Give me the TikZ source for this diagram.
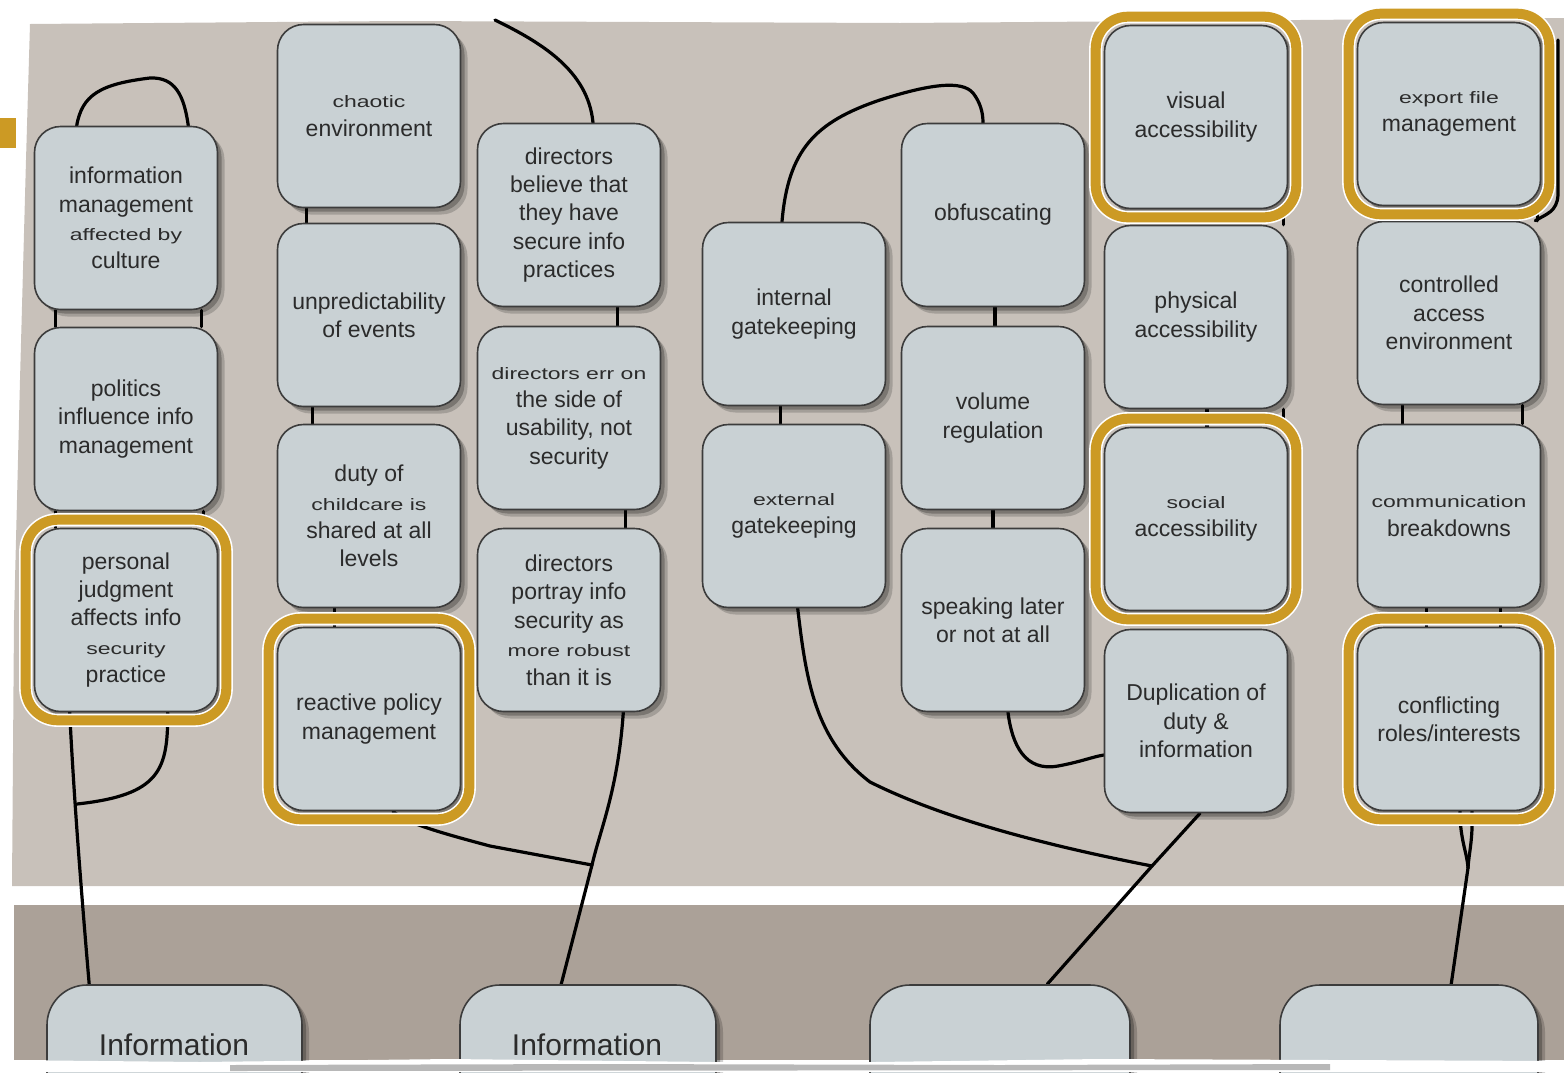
\documentclass[tikz,border=0pt]{standalone}
\usepackage{fontspec}
\setmainfont{Liberation Sans}
\usepackage{graphicx}
\usetikzlibrary{calc,fit,shadows}
\definecolor{panel}{HTML}{C8C1BA}
\definecolor{band}{HTML}{ABA198}
\definecolor{boxfill}{HTML}{C9D1D4}
\definecolor{boxline}{HTML}{3C3C3C}
\definecolor{gold}{HTML}{CC9A24}
\definecolor{txt}{HTML}{2B2B2B}
\newcommand{\sqz}[1]{\scalebox{1}[0.72]{#1}}
\pgfdeclarelayer{bg}\pgfdeclarelayer{conn}\pgfsetlayers{bg,conn,main}
\begin{document}
\begin{tikzpicture}[x=0.5pt,y=-0.5pt,
  softshadow/.style={
    drop shadow={shadow xshift=3.5pt, shadow yshift=-3.5pt, opacity=0.18, fill=black},
    drop shadow={shadow xshift=2pt, shadow yshift=-2pt, opacity=0.25, fill=black}},
  card/.style={draw=boxline, line width=0.8pt, fill=boxfill, rounded corners=13pt,
    minimum width=91.5pt, minimum height=91.5pt, inner sep=0pt, align=center, text=txt,
    font=\fontsize{11.5}{14.2}\selectfont, softshadow},
  bigcard/.style={draw=boxline, line width=0.8pt, fill=boxfill, rounded corners=20pt,
    minimum height=100pt, inner sep=0pt, softshadow},
  bigtext/.style={font=\fontsize{15}{18}\selectfont, text=txt, inner sep=0pt, anchor=base},
  ring/.style={draw=gold, line width=5pt, rounded corners=16pt, inner sep=4pt,
    preaction={draw=white, line width=6.6pt}},
  wire/.style={draw=black, line width=1.6pt, line cap=round, line join=round}
]
\useasboundingbox (0,0) rectangle (1564,1072);

% ---------- background ----------
\begin{pgfonlayer}{bg}
\fill[panel] (30,24) -- (400,21) -- (900,23) -- (1300,20) -- (1564,18) -- (1564,886)
  -- (12,886) -- (14,620) -- (20,380) -- (26,160) -- cycle;
\fill[band] (14,905) -- (1564,905) -- (1564,1060) -- (14,1060) -- cycle;
\fill[gold] (0,118) rectangle (16,148);
\end{pgfonlayer}

% ---------- cards ----------
\node[card] (c1a) at (126,218) {information\\management\\\sqz{affected by}\\culture};
\node[card] (c1b) at (126,419) {politics\\influence info\\management};
\node[card] (c1c) at (126,620) {personal\\judgment\\affects info\\\sqz{security}\\practice};

\node[card] (c2a) at (369,116) {\sqz{chaotic}\\environment};
\node[card] (c2b) at (369,315) {unpredictability\\of events};
\node[card] (c2c) at (369,516) {duty of\\\sqz{childcare is}\\shared at all\\levels};
\node[card] (c2d) at (369,719) {reactive policy\\management};

\node[card] (c3a) at (569,215) {directors\\believe that\\they have\\secure info\\practices};
\node[card] (c3b) at (569,418) {\sqz{directors err on}\\the side of\\usability, not\\security};
\node[card] (c3c) at (569,620) {directors\\portray info\\security as\\\sqz{more robust}\\than it is};

\node[card] (c4a) at (794,314) {internal\\gatekeeping};
\node[card] (c4b) at (794,516) {\sqz{external}\\gatekeeping};

\node[card] (c5a) at (993,215) {obfuscating};
\node[card] (c5b) at (993,418) {volume\\regulation};
\node[card] (c5c) at (993,620) {speaking later\\or not at all};

\node[card] (c6a) at (1196,117) {visual\\accessibility};
\node[card] (c6b) at (1196,317) {physical\\accessibility};
\node[card] (c6c) at (1196,519) {\sqz{social}\\accessibility};
\node[card] (c6d) at (1196,721) {Duplication of\\duty \&\\information};

\node[card] (c7a) at (1449,114) {\sqz{export file}\\management};
\node[card] (c7b) at (1449,313) {controlled\\access\\environment};
\node[card] (c7c) at (1449,516) {\sqz{communication}\\breakdowns};
\node[card] (c7d) at (1449,719) {conflicting\\roles/interests};

\node[bigcard, minimum width=127.5pt] (b1) at (174.5,1085) {};
\node[bigcard, minimum width=128pt] (b2) at (588,1085) {};
\node[bigcard, minimum width=130pt] (b3) at (1000,1085) {};
\node[bigcard, minimum width=129pt] (b4) at (1409,1085) {};
\node[bigtext] (b1t) at (174,1055) {Information};
\node[bigtext] (b2t) at (587,1055) {Information};

% ---------- highlight rings ----------
\node[ring, fit=(c1c)] (r1) {};
\node[ring, fit=(c2d)] (r2) {};
\node[ring, fit=(c6a)] (r3) {};
\node[ring, fit=(c6c)] (r4) {};
\node[ring, fit=(c7a)] (r5) {};
\node[ring, fit=(c7d)] (r6) {};

% ---------- free ends and junctions ----------
\coordinate (T3) at (495,20);
\coordinate (T7) at (1558,40);
\coordinate (J1) at (77,804);
\coordinate (J2) at (592,865);
\coordinate (J3) at (1152,866);
\coordinate (J7) at (1468,868);

% ---------- connectors ----------
\begin{pgfonlayer}{conn}
% column 1
\draw[wire] ($(c1a.north west)+(43,0)$) .. controls (82,95) and (100,84) .. (150,78)
  .. controls (175,77) and (184,95) .. ($(c1a.north east)+(-30,0)$);
\draw[wire] ($(c1a.south west)+(22,0)$) -- ($(c1b.north west)+(22,0)$);
\draw[wire] ($(c1a.south east)+(-17,0)$) -- ($(c1b.north east)+(-17,0)$);
\draw[wire] ($(c1b.south west)+(22,0)$) -- ($(c1c.north west)+(22,0)$);
\draw[wire] ($(c1b.south east)+(-15,0)$) -- ($(c1c.north east)+(-15,0)$);
\draw[wire] ($(c1c.south west)+(36,0)$) .. controls (74,800) and (82,900) .. ($(b1.north west)+(43,0)$);
\draw[wire] ($(c1c.south west)+(134,0)$) .. controls (168,770) and (160,795) .. (J1);
% column 2
\draw[wire] ($(c2a.south west)+(29.5,0)$) -- ($(c2b.north west)+(29.5,0)$);
\draw[wire] ($(c2b.south west)+(35.5,0)$) -- ($(c2c.north west)+(35.5,0)$);
\draw[wire] ($(c2c.south west)+(57.5,0)$) -- ($(c2d.north west)+(57.5,0)$);
\draw[wire] ($(c2d.south)+(24,0)$) .. controls (405,822) and (430,830) .. (490,846) -- (J2);
% column 3
\draw[wire] (T3) .. controls (540,42) and (588,70) .. ($(c3a.north)+(24,0)$);
\draw[wire] ($(c3a.south east)+(-43.5,0)$) -- ($(c3b.north east)+(-43.5,0)$);
\draw[wire] ($(c3b.south east)+(-35.5,0)$) -- ($(c3c.north east)+(-35.5,0)$);
\draw[wire] ($(c3c.south east)+(-38,0)$) .. controls (618,790) and (600,830) .. (J2)
  -- ($(b2.north west)+(102,0)$);
% column 4
\draw[wire] ($(c4a.north)+(-12,0)$) .. controls (788,150) and (815,122) .. (880,100)
  .. controls (930,84) and (962,80) .. (973,93) .. controls (980,102) and (983,112) .. ($(c5a.north)+(-10,0)$);
\draw[wire] ($(c4a.south west)+(78.5,0)$) -- ($(c4b.north west)+(78.5,0)$);
\draw[wire] ($(c4b.south west)+(96,0)$) .. controls (806,680) and (815,740) .. (870,782)
  .. controls (950,822) and (1060,848) .. (J3);
% column 5
\draw[wire] ($(c5a.south)+(2,0)$) -- ($(c5b.north)+(2,0)$);
\draw[wire] (c5b.south) -- (c5c.north);
\draw[wire] ($(c5c.south)+(15,0)$) .. controls (1012,745) and (1025,772) .. (1058,766)
  .. controls (1080,762) and (1092,757) .. ($(c6d.west)+(0,34)$);
% column 6
\draw[wire] ($(c6a.south east)+(-4.5,0)$) -- ($(c6b.north east)+(-4.5,0)$);
\draw[wire] ($(c6b.south east)+(-4.5,0)$) -- ($(c6c.north east)+(-4.5,0)$);
\draw[wire] ($(c6b.south)+(11,0)$) -- ($(c6c.north)+(11,0)$);
\draw[wire] ($(c6d.south)+(4,0)$) -- (J3) -- ($(b3.north west)+(178,0)$);
% column 7
\draw[wire] (T7) -- (1558,195) .. controls (1557,212) and (1546,214) .. ($(c7b.north east)+(-6,0)$);
\draw[wire] ($(c7a.south east)+(-3.5,0)$) -- ($(c7b.north east)+(-3.5,0)$);
\draw[wire] ($(c7b.south west)+(45.5,0)$) -- ($(c7c.north west)+(45.5,0)$);
\draw[wire] ($(c7b.south east)+(-18.5,0)$) -- ($(c7c.north east)+(-18.5,0)$);
\draw[wire] ($(c7c.south west)+(69.5,0)$) -- ($(c7d.north west)+(69.5,0)$);
\draw[wire] ($(c7c.south east)+(-40.5,0)$) -- ($(c7d.north east)+(-40.5,0)$);
\draw[wire] ($(c7d.south)+(11,0)$) .. controls (1460,840) and (1467,852) .. (J7);
\draw[wire] ($(c7d.south)+(23,0)$) .. controls (1473,840) and (1469,852) .. (J7);
\draw[wire] (J7) -- ($(b4.north west)+(172,0)$);
\end{pgfonlayer}

% ---------- torn lower edge ----------
\fill[white] (0,1060) -- (200,1062) -- (450,1059) -- (800,1063) -- (1100,1059) -- (1564,1061)
  -- (1564,1072) -- (0,1072) -- cycle;
\fill[black!55, opacity=0.5] (230,1065) -- (600,1064) -- (1000,1065) -- (1330,1064)
  -- (1330,1070) -- (230,1071) -- cycle;
\end{tikzpicture}
\end{document}
